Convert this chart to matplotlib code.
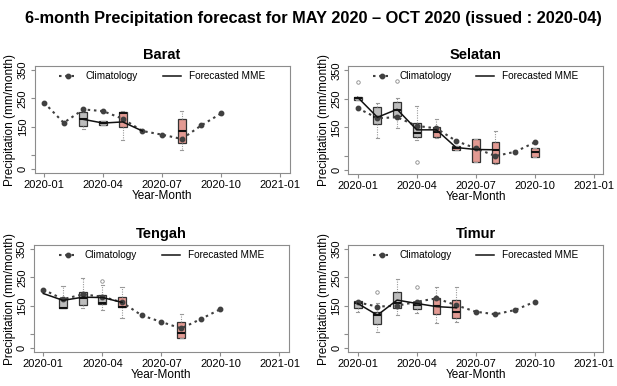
import numpy as np
import matplotlib.pyplot as plt

plt.rcParams['font.family'] = ['Liberation Sans', 'DejaVu Sans']

# month index 0 = 2020-01 ... 9 = 2020-10
months = np.arange(10)
tick_pos = [0, 3, 6, 9, 12]
tick_labels = ['2020-01', '2020-04', '2020-07', '2020-10', '2021-01']
first_forecast = 4  # MAY 2020

title = '6-month Precipitation forecast for MAY 2020 \u2013 OCT 2020 (issued : 2020-04)'

# climatology and MME (mean) per region
barat_clim = [235, 164, 211, 205, 178, 135, 122, 107, 155, 197]
barat_mme = [np.nan, np.nan, 176, 163, 167, 135, np.nan, 134, np.nan, np.nan]
# (month, whislo, q1, med, q3, whishi, fliers)
barat_boxes = [
    (2, 141, 152, 176, 203, 205, []),
    (3, 155, 155, 163, 170, 170, []),
    (4, 103, 148, 200, 203, 205, []),
    (7, 68, 94, 134, 179, 206, []),
]

selatan_clim = [217, 182, 185, 155, 146, 102, 76, 49, 64, 97]
selatan_mme = [255, 185, 213, 141, 141, 79, 72, 71, np.nan, np.nan]
selatan_boxes = [
    (0, 244, 244, 252, 255, 258, [310]),
    (1, 111, 162, 185, 220, 235, []),
    (2, 148, 190, 209, 238, 253, [314]),
    (3, 107, 115, 129, 164, 226, [29]),
    (4, 111, 115, 132, 150, 178, []),
    (5, 70, 70, 79, 83, 83, []),
    (6, 28, 28, 72, 109, 109, []),
    (7, 21, 26, 70, 100, 138, []),
    (9, 47, 47, 62, 76, 76, []),
]

tengah_clim = [207, 173, 190, 182, 162, 116, 93, 70, 103, 138]
tengah_mme = [193, 169, 180, 179, 162, np.nan, np.nan, np.nan, np.nan, np.nan]
tengah_boxes = [
    (1, 141, 141, 143, 178, 220, []),
    (2, 141, 152, 176, 199, 246, []),
    (3, 135, 156, 158, 188, 223, [237]),
    (4, 108, 144, 147, 182, 217, []),
    (7, 38, 38, 53, 94, 122, []),
]

timur_clim = [162, 147, 150, 164, 176, 152, 129, 120, 135, 164]
timur_mme = [158, 117, 170, 158, 147, 143, np.nan, np.nan, np.nan, np.nan]
timur_boxes = [
    (0, 129, 143, 158, 166, 168, []),
    (1, 59, 84, 117, 129, 158, [199]),
    (2, 117, 143, 158, 197, 244, []),
    (3, 125, 138, 152, 164, 164, [215]),
    (4, 90, 120, 150, 176, 217, []),
    (5, 91, 108, 129, 172, 217, []),
]

W, H = 617, 386
fig = plt.figure(figsize=(W / 100, H / 100), dpi=100)
fig.text(0.508, 1 - 18 / H, title, ha='center', va='center', fontsize=11.8,
         fontweight='bold')

frame_col = '#8c8c8c'


def panel(box_px, name, clim, mme, boxes):
    l, t, r, b = box_px
    ax = fig.add_axes([l / W, 1 - b / H, (r - l) / W, (b - t) / H])
    ax.set_xlim(-0.48, 12.48)
    ax.set_ylim(-14, 364)

    stats = []
    cols = []
    pos = []
    for m, lo, q1, med, q3, hi, fl in boxes:
        stats.append(dict(whislo=lo, q1=q1, med=med, q3=q3, whishi=hi, fliers=fl))
        pos.append(m)
        cols.append('#e39a93' if m >= first_forecast else '#bdbdbd')
    bp = ax.bxp(stats, positions=pos, widths=0.4, patch_artist=True, manage_ticks=False,
                boxprops=dict(edgecolor='#333333', linewidth=0.9),
                medianprops=dict(color='#111111', linewidth=1.5),
                whiskerprops=dict(color='#9a9a9a', linestyle=(0, (1, 1.2)), linewidth=0.8),
                capprops=dict(color='#9a9a9a', linewidth=0.8),
                flierprops=dict(marker='o', markersize=2.5, markerfacecolor='none',
                                markeredgecolor='#8a8a8a', markeredgewidth=0.6))
    for patch, c in zip(bp['boxes'], cols):
        patch.set_facecolor(c)
    for cap in bp['caps']:
        mid = np.mean(cap.get_xdata())
        cap.set_xdata([mid - 0.08, mid + 0.08])

    ax.plot(months, clim, color='#404040', linestyle=(0, (1.2, 1.8)), linewidth=1.5,
            marker='o', markersize=3.2, label='Climatology', zorder=4)
    ax.plot(months, mme, color='#111111', linewidth=1.1, label='Forecasted MME', zorder=5)

    ax.set_title(name, fontsize=10.5, fontweight='bold', pad=5)
    ax.set_xticks(tick_pos)
    ax.set_xticklabels(tick_labels, fontsize=8)
    ax.set_yticks([0, 50, 150, 250, 350])
    ax.set_yticklabels(['0', '', '150', '250', '350'], fontsize=8,
                       rotation=90, va='center')
    ax.tick_params(length=3, color=frame_col, pad=2)
    for s in ax.spines.values():
        s.set_color(frame_col)
        s.set_linewidth(0.8)
    ax.set_xlabel('Year-Month', fontsize=8.5, labelpad=0)
    ax.set_ylabel('Precipitation (mm/month)', fontsize=8.5, labelpad=1)
    ax.legend(loc='upper center', ncol=2, frameon=False, fontsize=7.2, numpoints=1,
              handlelength=1.8, handletextpad=0.8, columnspacing=2.5,
              borderaxespad=0.1)
    return ax


panel((34.6, 66, 289.6, 173.3), 'Barat', barat_clim, barat_mme, barat_boxes)
panel((348.3, 66.3, 603.3, 174), 'Selatan', selatan_clim, selatan_mme, selatan_boxes)
panel((33.9, 245, 288.9, 352.3), 'Tengah', tengah_clim, tengah_mme, tengah_boxes)
panel((348.3, 245, 603.3, 352.3), 'Timur', timur_clim, timur_mme, timur_boxes)

fig.savefig('out.png', dpi=100)
